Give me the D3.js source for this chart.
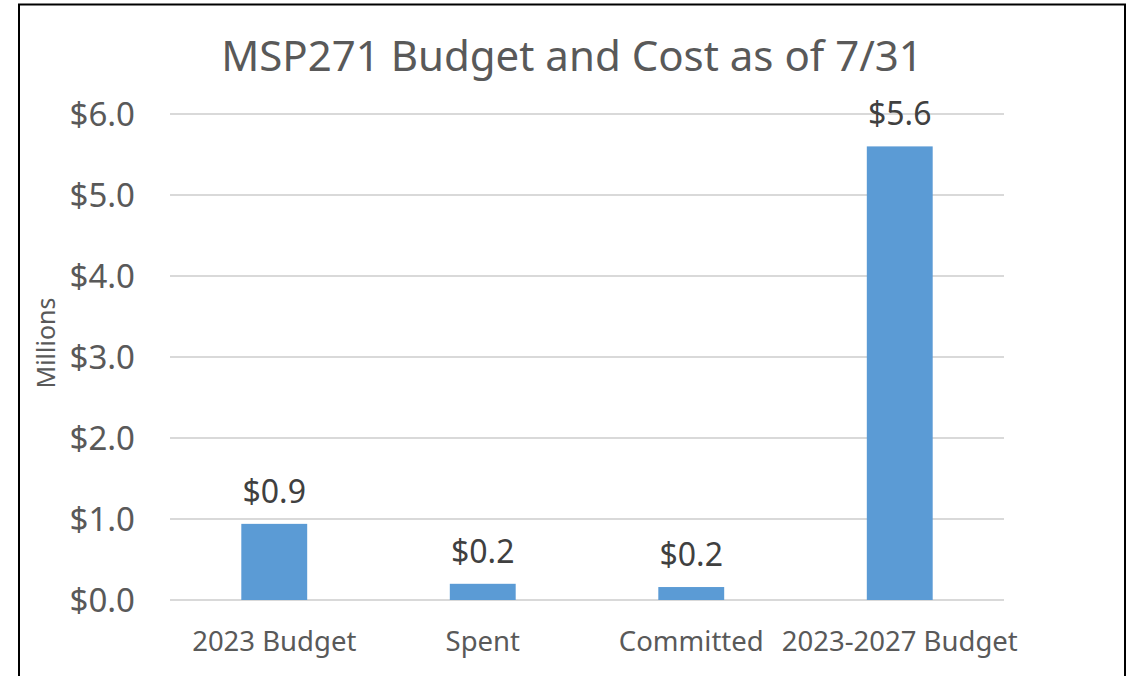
<!DOCTYPE html>
<html>
<head>
<meta charset="utf-8">
<script src="https://cdn.jsdelivr.net/npm/d3@7"></script>
<style>
  body { margin: 0; background: #fff; }
  text { font-family: "Noto Sans", sans-serif; }
</style>
</head>
<body>
<svg id="chart" width="1135" height="676"></svg>
<script>
// chart data
const categories = ['2023 Budget', 'Spent', 'Committed', '2023-2027 Budget'];
const amounts = [0.94, 0.2, 0.16, 5.6];   // millions
const yTicks = [0, 1, 2, 3, 4, 5, 6];
const titleText = 'MSP271 Budget and Cost as of 7/31';
const yLabel = 'Millions';

const width = 1135;
const height = 676;
const margin = { top: 114, right: 131, bottom: 76, left: 170 };

const svg = d3.select('#chart');
const fmt = d3.format('$.1f');

// outer frame
svg.append('rect')
  .attr('x', 19)
  .attr('y', 4.5)
  .attr('width', 1106)
  .attr('height', 700)
  .attr('fill', 'none')
  .attr('stroke', '#000')
  .attr('stroke-width', 2);

const x = d3.scaleBand()
  .domain(categories)
  .range([margin.left, width - margin.right])
  .paddingInner(0.684)
  .paddingOuter(0.342);

const y = d3.scaleLinear()
  .domain([0, 6])
  .range([height - margin.bottom, margin.top]);

// gridlines
svg.append('g')
  .selectAll('line')
  .data(yTicks)
  .enter()
  .append('line')
  .attr('x1', margin.left)
  .attr('x2', width - margin.right)
  .attr('y1', d => y(d))
  .attr('y2', d => y(d))
  .attr('stroke', '#d9d9d9')
  .attr('stroke-width', 2);

// y axis labels
const yAxis = svg.append('g')
  .attr('transform', `translate(${margin.left - 35}, 0)`)
  .call(d3.axisLeft(y).tickValues(yTicks).tickFormat(fmt).tickSize(0).tickPadding(0));
yAxis.select('.domain').remove();
yAxis.selectAll('text')
  .attr('font-family', '"Noto Sans", sans-serif')
  .attr('font-size', 33)
  .attr('fill', '#595959')
  .attr('dy', '0.34em');

// x axis labels
const xAxis = svg.append('g')
  .attr('transform', `translate(0, ${height - margin.bottom})`)
  .call(d3.axisBottom(x).tickSize(0).tickPadding(0));
xAxis.select('.domain').remove();
xAxis.selectAll('text')
  .attr('font-family', '"Noto Sans", sans-serif')
  .attr('font-size', 27.5)
  .attr('fill', '#595959')
  .attr('dy', 51);

// bars
svg.append('g')
  .selectAll('rect')
  .data(amounts)
  .enter()
  .append('rect')
  .attr('x', (d, i) => x(categories[i]))
  .attr('y', d => y(d))
  .attr('width', x.bandwidth())
  .attr('height', d => y(0) - y(d))
  .attr('fill', '#5b9bd5');

// value labels
svg.append('g')
  .selectAll('text')
  .data(amounts)
  .enter()
  .append('text')
  .attr('x', (d, i) => x(categories[i]) + x.bandwidth() / 2)
  .attr('y', d => y(d) - 21)
  .attr('text-anchor', 'middle')
  .attr('font-size', 32)
  .attr('fill', '#404040')
  .text(d => fmt(d));

// title
svg.append('text')
  .attr('x', 572)
  .attr('y', 71)
  .attr('text-anchor', 'middle')
  .attr('font-size', 42)
  .attr('fill', '#595959')
  .text(titleText);

// y axis title
svg.append('text')
  .attr('transform', 'translate(55, 343) rotate(-90)')
  .attr('text-anchor', 'middle')
  .attr('font-size', 25)
  .attr('fill', '#595959')
  .text(yLabel);
</script>
</body>
</html>
